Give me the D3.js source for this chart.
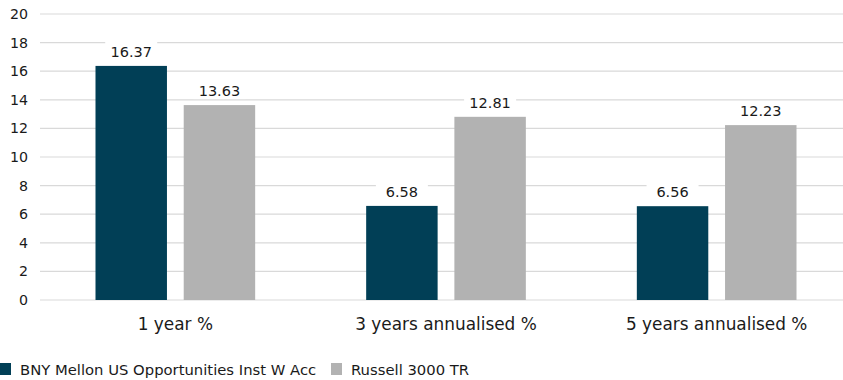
<!DOCTYPE html>
<html lang="en">
<head>
<meta charset="utf-8">
<title>Performance</title>
<script src="https://cdn.jsdelivr.net/npm/d3@7"></script>
<style>
  body { margin: 0; background: #fff; }
  text { font-family: "DejaVu Sans", "Open Sans", sans-serif; fill: #1a1a1a; }
</style>
</head>
<body>
<svg id="chart" width="843" height="380"></svg>
<script>
// data
var categories = ["1 year %", "3 years annualised %", "5 years annualised %"];
var seriesNames = ["BNY Mellon US Opportunities Inst W Acc", "Russell 3000 TR"];
var fundValues = [16.37, 6.58, 6.56];
var indexValues = [13.63, 12.81, 12.23];
var yTicks = [0, 2, 4, 6, 8, 10, 12, 14, 16, 18, 20];
var colors = ["#013f56", "#b2b2b2"];

var svg = d3.select("#chart");

var x0 = d3.scaleBand().domain(categories).range([40, 852]).paddingInner(0).paddingOuter(0);
var x1 = d3.scaleBand().domain([0, 1]).range([55.5, x0.bandwidth() - 55.5]).paddingInner(0.19);
var y = d3.scaleLinear().domain([0, 20]).range([300, 14]);

// gridlines
svg.append("g").selectAll("line").data(yTicks).enter().append("line")
  .attr("x1", 40).attr("x2", 843)
  .attr("y1", function(d) { return y(d); }).attr("y2", function(d) { return y(d); })
  .attr("stroke", "#d9d9d9").attr("stroke-width", 1.2);

// y axis labels
svg.append("g").selectAll("text").data(yTicks).enter().append("text")
  .attr("x", 28).attr("y", function(d) { return y(d) + 5; })
  .attr("text-anchor", "end").attr("font-size", 14.2)
  .text(function(d) { return d; });

var rows = categories.map(function(c, i) {
  return { cat: c, vals: [fundValues[i], indexValues[i]] };
});

var groups = svg.append("g").selectAll("g").data(rows).enter().append("g")
  .attr("transform", function(d) { return "translate(" + x0(d.cat) + ",0)"; });

groups.selectAll("rect").data(function(d) { return d.vals; }).enter().append("rect")
  .attr("x", function(d, i) { return x1(i); })
  .attr("width", x1.bandwidth())
  .attr("y", function(d) { return y(d); })
  .attr("height", function(d) { return y(0) - y(d); })
  .attr("fill", function(d, i) { return colors[i]; });

// value labels with white backing
groups.selectAll("g.lbl").data(function(d) { return d.vals; }).enter().append("g")
  .attr("class", "lbl")
  .each(function(d, i) {
    var g = d3.select(this);
    var cx = x1(i) + x1.bandwidth() / 2;
    g.append("rect").attr("x", cx - 26).attr("y", y(d) - 24).attr("width", 52).attr("height", 18).attr("fill", "#fff");
    g.append("text").attr("x", cx).attr("y", y(d) - 9)
      .attr("text-anchor", "middle").attr("font-size", 14.5)
      .text(d.toFixed(2));
  });

// category labels
svg.append("g").selectAll("text").data(categories).enter().append("text")
  .attr("x", function(d) { return x0(d) + x0.bandwidth() / 2; })
  .attr("y", 330).attr("text-anchor", "middle").attr("font-size", 16.9)
  .text(function(d) { return d; });

// legend
var legendX = [0, 331];
var leg = svg.append("g").selectAll("g").data(seriesNames).enter().append("g")
  .attr("transform", function(d, i) { return "translate(" + legendX[i] + ",0)"; });
leg.append("rect").attr("x", 0).attr("y", 363).attr("width", 11).attr("height", 12)
  .attr("fill", function(d, i) { return colors[i]; });
leg.append("text").attr("x", 20).attr("y", 375).attr("font-size", 14.8)
  .text(function(d) { return d; });
</script>
</body>
</html>
